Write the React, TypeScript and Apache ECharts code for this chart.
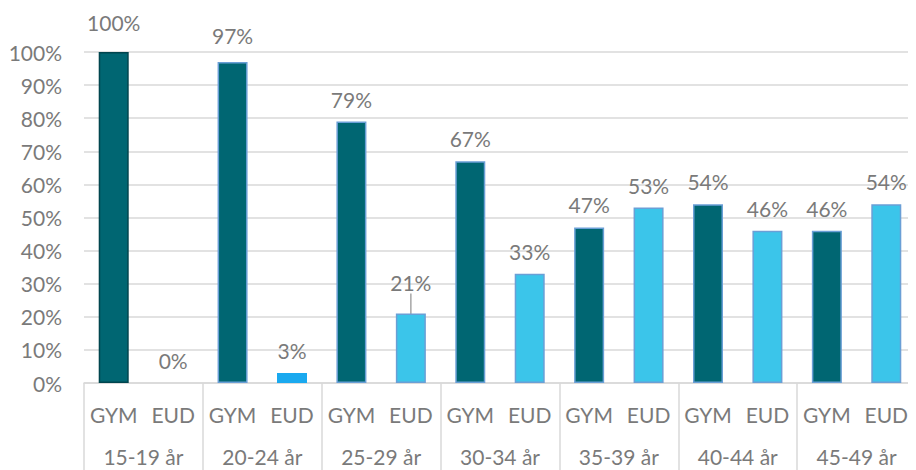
import React, { useEffect, useRef } from "react";
import * as echarts from "echarts";

const ageGroups = ["15-19 år", "20-24 år", "25-29 år", "30-34 år", "35-39 år", "40-44 år", "45-49 år"];
const subLabels = ["GYM", "EUD"];
const gymValues = [100, 97, 79, 67, 47, 54, 46];
const eudValues = [0, 3, 21, 33, 53, 46, 54];
const yTicks = [0, 10, 20, 30, 40, 50, 60, 70, 80, 90, 100];

const FONT = "Lato, 'Open Sans', sans-serif";
const TXT = "#7a7a7a";
const FS = 21;

export default function App() {
  const ref = useRef<HTMLDivElement>(null);
  useEffect(() => {
    if (!ref.current) return;
    const chart = echarts.init(ref.current, undefined, { renderer: "svg" });
    const cats: string[] = [];
    ageGroups.forEach(() => subLabels.forEach((s) => cats.push(s)));
    const gymData: any[] = [];
    const eudData: any[] = [];
    ageGroups.forEach((_, i) => {
      gymData.push(
        i === 0
          ? { value: gymValues[i], itemStyle: { borderColor: "#00454e" }, label: { distance: 19 } }
          : i === 1
          ? { value: gymValues[i], label: { distance: 16 } }
          : gymValues[i]
      );
      gymData.push("-");
      eudData.push("-");
      const item: any = { value: eudValues[i] };
      if (eudValues[i] === 0) item.itemStyle = { borderWidth: 0 };
      if (i === 1) item.itemStyle = { color: "#1aa9ef", borderColor: "#1aa9ef" };
      if (i === 2) item.labelLine = { show: true };
      eudData.push(item);
    });
    const labelCfg = {
      show: true,
      position: "top",
      distance: 12,
      color: TXT,
      fontSize: FS,
      fontFamily: FONT,
      formatter: (p: any) => p.value + "%",
    };
    chart.setOption({
      animation: false,
      grid: { left: 84, right: -8, top: 52, bottom: 87 },
      xAxis: [
        {
          type: "category",
          data: cats,
          axisLine: { show: true, lineStyle: { color: "#d9d9d9", width: 1.5 } },
          axisTick: { show: false },
          axisLabel: { color: TXT, fontSize: FS, fontFamily: FONT, margin: 21, interval: 0 },
        },
        {
          type: "category",
          data: ageGroups,
          position: "bottom",
          axisLine: { show: false },
          axisTick: { show: true, length: 88, lineStyle: { color: "#d9d9d9", width: 1.5 } },
          axisLabel: { color: TXT, fontSize: FS, fontFamily: FONT, margin: 63, interval: 0 },
        },
      ],
      yAxis: {
        type: "value",
        min: 0,
        max: 100,
        interval: 10,
        axisLine: { show: false },
        axisTick: { show: false },
        splitLine: { lineStyle: { color: "#d9d9d9", width: 1.5 } },
        axisLabel: {
          color: TXT,
          fontSize: FS,
          fontFamily: FONT,
          margin: 22,
          formatter: (v: number) => (yTicks.includes(v) ? v + "%" : ""),
        },
      },
      series: [
        {
          type: "bar",
          name: "GYM",
          data: gymData,
          barWidth: 30,
          barGap: "-100%",
          itemStyle: { color: "#006672", borderColor: "#6a9fd6", borderWidth: 1.5 },
          label: labelCfg,
        },
        {
          type: "bar",
          name: "EUD",
          data: eudData,
          barWidth: 30,
          barGap: "-100%",
          itemStyle: { color: "#3bc5ea", borderColor: "#6a9fd6", borderWidth: 1.5 },
          label: labelCfg,
          labelLine: { show: false, lineStyle: { color: "#a6a6a6", width: 1.5 } },
          labelLayout: (p: any) => (p.dataIndex === 5 ? { dy: -8 } : {}),
        },
      ],
    });
    return () => chart.dispose();
  }, []);
  return <div ref={ref} style={{ width: 916, height: 470, marginLeft: -8, marginTop: -8 }} />;
}
